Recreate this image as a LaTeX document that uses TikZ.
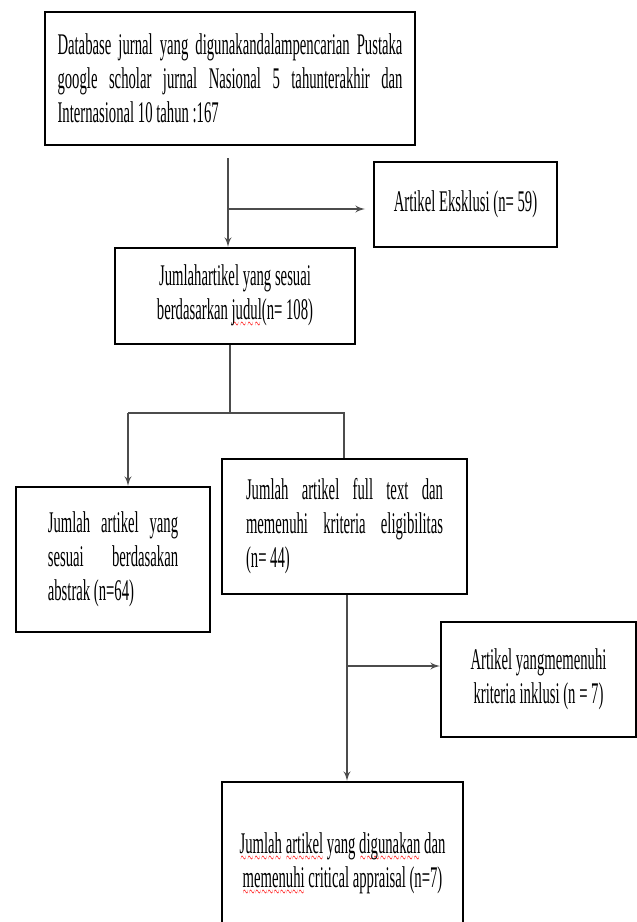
\documentclass[tikz,border=0pt]{standalone}
\usepackage{fontspec}
\setmainfont{Liberation Serif}
\usepackage{graphicx}
\usepackage{tikz}
\usetikzlibrary{arrows}

\newcommand{\sqz}[2]{\scalebox{0.49}[1]{\parbox{#1}{#2}}}
\newcommand{\jl}[1]{\makebox[\linewidth][s]{#1}\\}
\newcommand{\spell}[1]{\leavevmode\setbox0\hbox{#1}\rlap{\raisebox{-4pt}{\color{red}\hbox to \wd0{\xleaders\hbox{$\scriptscriptstyle\sim$}\hfill}}}\box0\relax}

\begin{document}
\begin{tikzpicture}[x=0.5pt, y=-0.5pt, every node/.style={draw=black, line width=0.9pt, inner sep=0pt, font=\fontsize{15pt}{17pt}\selectfont}]
	
	\tikzset{edge/.style = {->,> = latex', draw=black!70, line width=0.7pt}}
	
	\useasboundingbox (0,0) rectangle (637,922);
	
	\node[minimum width=185pt, minimum height=66.5pt] (dbase) at (230,78.5) {\sqz{352pt}{\jl{Database jurnal yang digunakandalampencarian Pustaka}\jl{google scholar jurnal Nasional 5 tahunterakhir dan}Internasional 10 tahun :167}};
	\node[minimum width=91.5pt, minimum height=42.5pt] (eksklusi) at (465.5,204.5) {\sqz{160pt}{\centering Artikel Eksklusi (n= 59)}};
	\node[minimum width=120pt, minimum height=48pt] (judul) at (235,296) {\sqz{175pt}{\centering Jumlahartikel yang sesuai\\ berdasarkan \spell{judul}(n= 108)}};
	
	\node[minimum width=97pt, minimum height=72.5pt] (abstrak) at (113,559.5) {\sqz{133pt}{\jl{Jumlah artikel yang}\jl{sesuai berdasakan}abstrak (n=64)}};
	\node[minimum width=122.5pt, minimum height=67.5pt] (eligib) at (344.5,526.5) {\sqz{201pt}{\jl{Jumlah artikel full text dan}\jl{memenuhi kriteria eligibilitas}(n= 44)}};
	
	\node[minimum width=97.5pt, minimum height=57.5pt] (inklusi) at (538.5,679.5) {\sqz{150pt}{\centering Artikel yangmemenuhi\\ kriteria inklusi (n = 7)}};
	\node[minimum width=120.5pt, minimum height=82pt] (akhir) at (342.5,864) {\sqz{220pt}{\centering \spell{Jumlah} \spell{artikel} yang \spell{digunakan} dan\\ \spell{memenuhi} critical appraisal (n=7)}};
	
	\coordinate (a) at (228,158);
	\coordinate (b) at (228,209);
	\coordinate (c) at (230,413);
	\coordinate (d) at (128,413);
	\coordinate (e) at (344,413);
	\coordinate (f) at (347,666);
	
	\foreach \source/\dest in {a/judul,d/abstrak}
	\draw[edge] (\source) -- (\source |- \dest.north);
	
	\draw[edge, shorten >=4pt] (b) -- (b -| eksklusi.west);
	\draw[edge, -] (c |- judul.south) -- (c);
	\draw[edge, -] (d) -- (e) -- (e |- eligib.north);
	\draw[edge] (f |- eligib.south) -- (f |- akhir.north);
	\draw[edge] (f) -- (f -| inklusi.west);
	
\end{tikzpicture}
\end{document}
